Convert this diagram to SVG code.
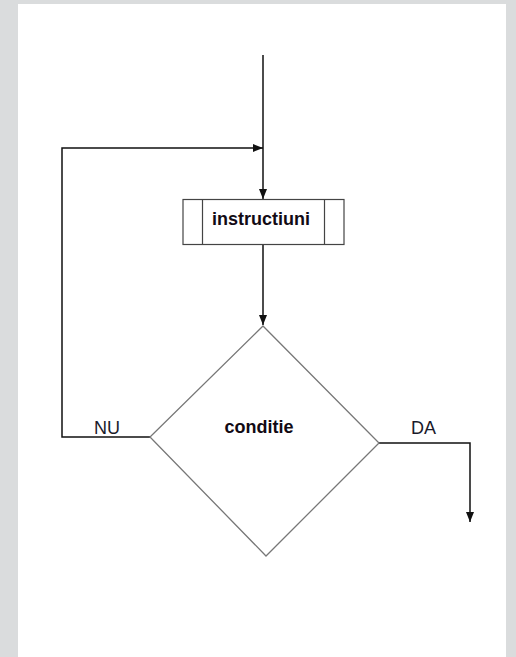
<svg xmlns="http://www.w3.org/2000/svg" width="516" height="657" viewBox="0 0 516 657">
<style>
.conn{fill:none;stroke:#111;stroke-width:1.5}
.shape{fill:#fff;stroke:#444;stroke-width:1.2}
.dia{fill:#fff;stroke:#777;stroke-width:1.3}
.lbl{font-family:"Liberation Sans",Arial,sans-serif;font-size:18px;fill:#1a1a2a}
.bold{font-weight:bold;fill:#120a14}
</style>
<defs>
<marker id="arr" viewBox="0 0 10 8" refX="10" refY="4" markerWidth="10" markerHeight="8" markerUnits="userSpaceOnUse" orient="auto">
<path d="M0,0 L10,4 L0,8 Z" fill="#111"/>
</marker>
</defs>
<rect x="0" y="0" width="516" height="657" fill="#dadcdd"/>
<rect x="18" y="4" width="488" height="653" fill="#fff"/>
<g id="connectors">
<line class="conn" x1="263" y1="55" x2="263" y2="199" marker-end="url(#arr)"/>
<polyline class="conn" points="150,437 62,437 62,148 263,148" marker-end="url(#arr)"/>
<line class="conn" x1="263" y1="245" x2="263" y2="325" marker-end="url(#arr)"/>
<polyline class="conn" points="379,443 470,443 470,522" marker-end="url(#arr)"/>
</g>
<g id="instructiuni">
<rect class="shape" x="183" y="199.5" width="161" height="45"/>
<line class="shape" x1="202.5" y1="199.5" x2="202.5" y2="244.5"/>
<line class="shape" x1="324.5" y1="199.5" x2="324.5" y2="244.5"/>
<text class="lbl bold" x="261" y="225" text-anchor="middle">instructiuni</text>
</g>
<g id="conditie">
<polygon class="dia" points="263,326 379,443 266,556 150,437"/>
<text class="lbl bold" x="259" y="433" text-anchor="middle">conditie</text>
</g>
<g id="labels">
<text class="lbl" x="94" y="434">NU</text>
<text class="lbl" x="411" y="434">DA</text>
</g>
</svg>
